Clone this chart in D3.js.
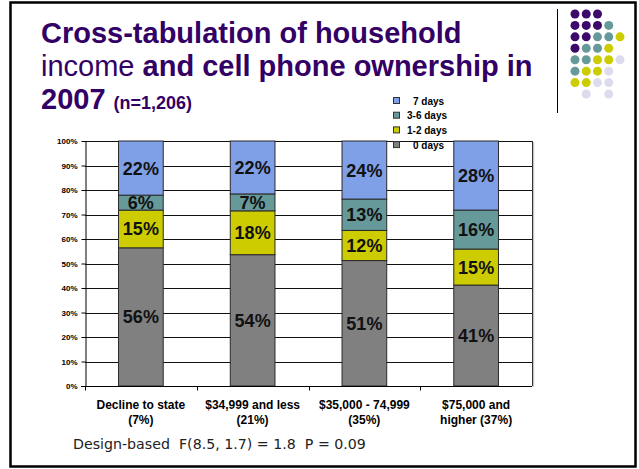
<!DOCTYPE html>
<html>
<head>
<meta charset="utf-8">
<script src="https://cdn.jsdelivr.net/npm/d3@7"></script>
<style>
  html, body { margin: 0; padding: 0; background: #fff; }
  svg { display: block; }
</style>
</head>
<body>
<svg id="chart" width="639" height="469"></svg>
<script>
// Income groups (share of sample in parentheses)
const categories = [
  ["Decline to state", "(7%)"],
  ["$34,999 and less", "(21%)"],
  ["$35,000 - 74,999", "(35%)"],
  ["$75,000 and", "higher (37%)"]
];
// Percent of each income group by days per week the cell phone is used
const days0  = [56.4, 53.6, 51.2, 41.2];
const days12 = [15.4, 17.9, 12.3, 14.7];
const days36 = [6.1, 6.9, 12.8, 15.9];
const days7  = [22.1, 21.6, 23.7, 28.2];
const seriesNames = ["0 days", "1-2 days", "3-6 days", "7 days"];
const yTicks = [0, 10, 20, 30, 40, 50, 60, 70, 80, 90, 100];

const colors = {
  "0 days": "#808080",
  "1-2 days": "#cccc00",
  "3-6 days": "#669999",
  "7 days": "#7f9fe6"
};

const svg = d3.select("#chart");

// slide frame
svg.append("rect")
  .attr("x", 10.5).attr("y", 2.5).attr("width", 625).attr("height", 464)
  .attr("fill", "#fff").attr("stroke", "#000").attr("stroke-width", 2.5);

// title
const purple = "#330066";
const title = svg.append("g").attr("font-family", "Liberation Sans, Arial, sans-serif")
  .attr("fill", purple);
title.append("text").attr("x", 41).attr("y", 43)
  .attr("font-size", 29).attr("font-weight", "bold")
  .text("Cross-tabulation of household");
const l2 = title.append("text").attr("x", 41).attr("y", 76).attr("font-size", 29);
l2.append("tspan").text("income ");
l2.append("tspan").attr("font-weight", "bold").text("and cell phone ownership in");
const l3 = title.append("text").attr("x", 41).attr("y", 109).attr("font-weight", "bold");
l3.append("tspan").attr("font-size", 29).text("2007 ");
l3.append("tspan").attr("font-size", 18).text("(n=1,206)");

// corner decoration: divider line and dot pattern
svg.append("line").attr("x1", 557.5).attr("x2", 557.5).attr("y1", 9).attr("y2", 113)
  .attr("stroke", "#000").attr("stroke-width", 1);
const dotColors = { P: "#3d0a6b", T: "#669999", Y: "#cccc00", L: "#dcdcee" };
const dotRows = ["PPP", "PPPT", "PPTTY", "PTTY", "TTYYL", "TYYL", "YYLL", ".L.L"];
const dotX = d3.scaleLinear().domain([0, 4]).range([575, 620]);
const dotY = d3.scaleLinear().domain([0, 7]).range([14, 94]);
dotRows.forEach((row, r) => {
  row.split("").forEach((c, i) => {
    if (c === ".") return;
    svg.append("circle").attr("cx", dotX(i)).attr("cy", dotY(r)).attr("r", 4.5)
      .attr("fill", dotColors[c]);
  });
});

// plot area
const plotLeft = 85, plotRight = 532, plotTop = 141, plotBottom = 386;
const x = d3.scaleBand().domain(d3.range(categories.length))
  .range([plotLeft, plotRight]).paddingInner(0.6).paddingOuter(0.3);
const y = d3.scaleLinear().domain([0, 100]).range([plotBottom, plotTop]);

// right border with a soft shadow
svg.append("line").attr("x1", plotRight + 1.5).attr("x2", plotRight + 1.5)
  .attr("y1", plotTop + 1).attr("y2", plotBottom + 1).attr("stroke", "#c8c8c8").attr("stroke-width", 1.5);
svg.append("line").attr("x1", plotRight + 0.5).attr("x2", plotRight + 0.5)
  .attr("y1", plotTop).attr("y2", plotBottom).attr("stroke", "#333").attr("stroke-width", 1);

// gridlines
svg.append("g").selectAll("line").data(yTicks.filter(d => d > 0)).join("line")
  .attr("x1", plotLeft).attr("x2", plotRight)
  .attr("y1", d => Math.round(y(d)) + 0.5).attr("y2", d => Math.round(y(d)) + 0.5)
  .attr("stroke", "#111").attr("stroke-width", 1);

// stacked bars
const rows = categories.map((c, i) => ({
  i, "0 days": days0[i], "1-2 days": days12[i], "3-6 days": days36[i], "7 days": days7[i]
}));
const stack = d3.stack().keys(seriesNames)(rows);
const fmt = v => Math.round(v) + "%";

const layers = svg.append("g").selectAll("g").data(stack).join("g")
  .attr("fill", d => colors[d.key]);
layers.selectAll("rect").data(d => d).join("rect")
  .attr("x", d => x(d.data.i))
  .attr("width", x.bandwidth())
  .attr("y", d => y(d[1]))
  .attr("height", d => y(d[0]) - y(d[1]))
  .attr("stroke", "#2a2a2a").attr("stroke-width", 1);

const labels = svg.append("g").attr("font-family", "Liberation Sans, Arial, sans-serif")
  .attr("font-weight", "bold").attr("font-size", 18).attr("fill", "#111")
  .attr("text-anchor", "middle");
stack.forEach(layer => {
  layer.forEach(d => {
    labels.append("text")
      .attr("x", x(d.data.i) + x.bandwidth() / 2)
      .attr("y", (y(d[0]) + y(d[1])) / 2)
      .attr("dy", "0.36em")
      .text(fmt(d[1] - d[0]));
  });
});

// y axis
const yAxis = svg.append("g").attr("transform", `translate(${plotLeft + 0.5},0)`)
  .call(d3.axisLeft(y).tickValues(yTicks).tickFormat(d => d + "%").tickSize(4).tickSizeOuter(0));
yAxis.selectAll("text").attr("font-family", "Liberation Sans, Arial, sans-serif")
  .attr("font-size", 8).attr("font-weight", "bold").attr("fill", "#000").attr("x", -8);
yAxis.selectAll("line, path").attr("stroke", "#000");

// x axis with ticks at category boundaries
const xAxisG = svg.append("g").attr("transform", `translate(0,${plotBottom + 0.5})`);
xAxisG.append("line").attr("x1", plotLeft - 4).attr("x2", plotRight)
  .attr("stroke", "#000");
const step = x.step();
xAxisG.selectAll("line.tick").data(d3.range(categories.length)).join("line")
  .attr("class", "tick")
  .attr("x1", d => Math.round(plotLeft + step * d) + 0.5)
  .attr("x2", d => Math.round(plotLeft + step * d) + 0.5)
  .attr("y1", 0).attr("y2", 4).attr("stroke", "#000");

const xl = svg.append("g").attr("font-family", "Liberation Sans, Arial, sans-serif")
  .attr("font-weight", "bold").attr("font-size", 12).attr("fill", "#000")
  .attr("text-anchor", "middle");
categories.forEach((c, i) => {
  const cx = x(i) + x.bandwidth() / 2;
  xl.append("text").attr("x", cx).attr("y", 408.5).text(c[0]);
  xl.append("text").attr("x", cx).attr("y", 423.5).text(c[1]);
});

// legend (top series first)
const legend = svg.append("g").attr("font-family", "Liberation Sans, Arial, sans-serif")
  .attr("font-weight", "bold").attr("font-size", 10).attr("fill", "#000");
const legendItems = ["7 days", "3-6 days", "1-2 days", "0 days"];
const legendTextX = { "7 days": 413, "3-6 days": 407, "1-2 days": 407, "0 days": 413 };
legendItems.forEach((k, i) => {
  const cy = 101 + i * 14.7;
  legend.append("rect").attr("x", 393.5).attr("y", cy - 3.5).attr("width", 6).attr("height", 6)
    .attr("fill", colors[k]).attr("stroke", "#333").attr("stroke-width", 1);
  legend.append("text").attr("x", legendTextX[k]).attr("y", cy + 3.5).text(k);
});

// test statistic note
svg.append("text").attr("x", 73).attr("y", 449)
  .attr("font-family", "DejaVu Sans, Verdana, sans-serif").attr("font-size", 14.2)
  .attr("fill", "#222").attr("xml:space", "preserve")
  .text("Design-based  F(8.5, 1.7) = 1.8  P = 0.09");
</script>
</body>
</html>
